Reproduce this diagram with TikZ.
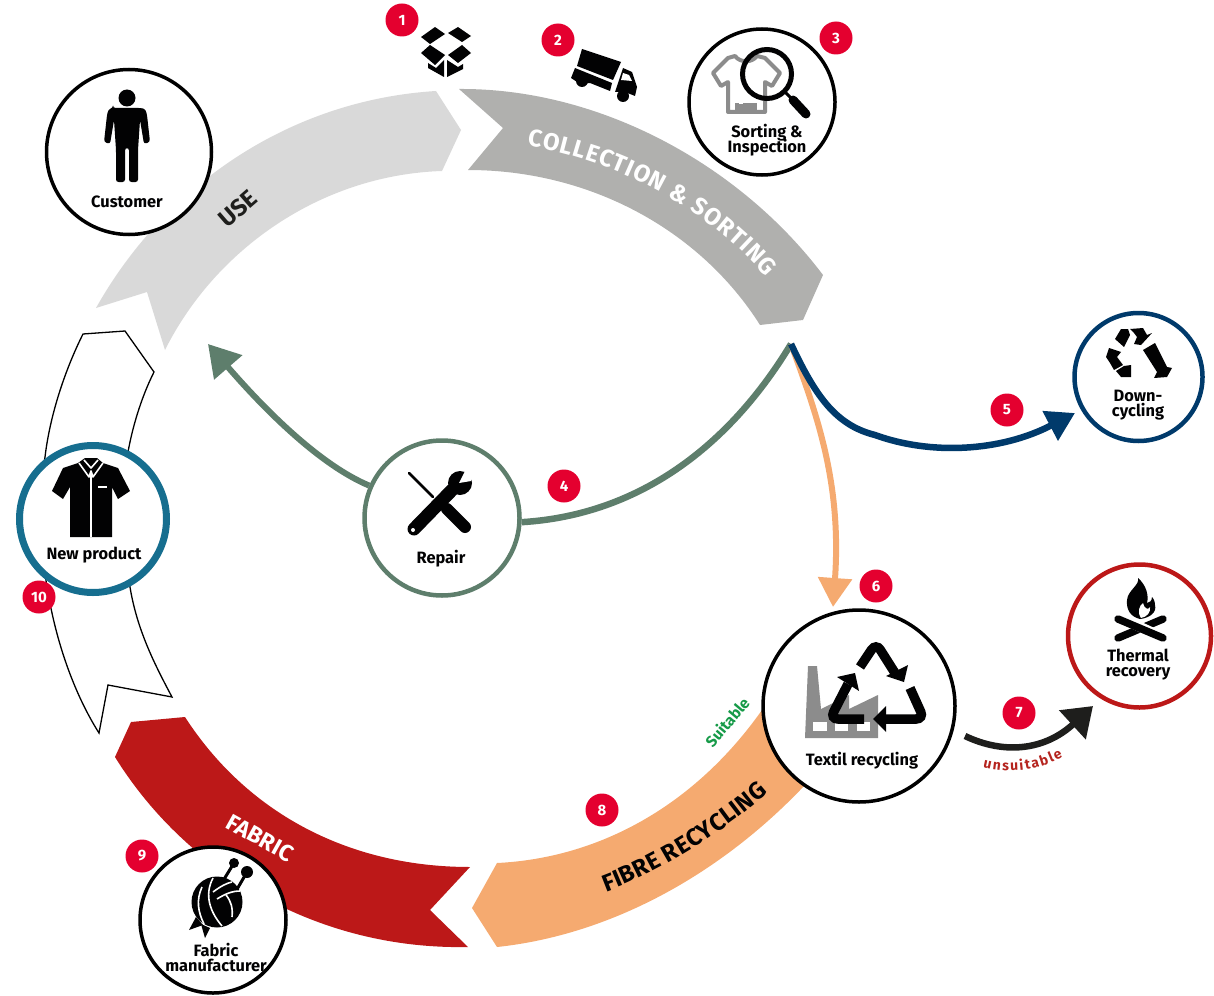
\documentclass[tikz,border=0pt]{standalone}
\usepackage{fontspec}
\setmainfont{Fira Sans}
\usetikzlibrary{arrows.meta,decorations.text}
\definecolor{badgered}{HTML}{E4002F}
\definecolor{grayA}{HTML}{B0B0AE}
\definecolor{grayB}{HTML}{D9D9D9}
\definecolor{fabricred}{HTML}{BC1818}
\definecolor{fibre}{HTML}{F5AA70}
\definecolor{repgreen}{HTML}{5E7E6C}
\definecolor{navy}{HTML}{003A6B}
\definecolor{teal}{HTML}{166E8F}
\definecolor{iconblack}{HTML}{020203}
\definecolor{factory}{HTML}{8C8C8C}
\definecolor{coal}{HTML}{1E1E1C}
\definecolor{suitgreen}{HTML}{169A48}
\definecolor{unsuit}{HTML}{B5241E}
\AtBeginDocument{\lineskiplimit=-100pt \normallineskiplimit=-100pt}
\tikzset{
  badge/.style={circle,fill=badgered,minimum size=33pt,inner sep=0pt,text=white,font=\fontsize{15}{15}\selectfont\bfseries},
  ring/.style={circle,fill=white,draw=#1,inner sep=0pt},
  lab/.style={font=\fontsize{16.4}{15}\selectfont\bfseries,text=iconblack,align=center,inner sep=0pt},
  conn/.style={line width=#1,line cap=butt},
  ic/.style={fill=iconblack,draw=none},
  wh/.style={fill=white,draw=none},
}
\newcommand{\curvetext}[3]{%
  \path[postaction={decorate},decoration={text along path,text align={fit to path},
    text={|\fontsize{#1}{#1}\selectfont\bfseries\color{#2}|#3}}]}
\begin{document}
\begin{tikzpicture}[x=1pt,y=-1pt,line join=miter]
\useasboundingbox (0,0) rectangle (1214,995);
% ---- ring bands
\fill[grayB] (436,91) .. controls (290,100) and (165,185) .. (96,308)
  -- (147,292) -- (165,350) .. controls (215,250) and (320,175) .. (442,171) -- (461,130) -- cycle;
\fill[grayA] (459,89) .. controls (600,88) and (740,165) .. (823,275)
  -- (803,320) -- (760,325) .. controls (700,230) and (590,170) .. (468,170) -- (503,128) -- cycle;
\draw[black,line width=1.3pt,fill=white] (83,334) -- (125,331) -- (154,372)
  .. controls (140,400) and (132,430) .. (128,452) .. controls (122,500) and (125,550) .. (130,587)
  .. controls (137,630) and (155,665) .. (172,697) -- (108,685) -- (99,733)
  .. controls (75,695) and (60,650) .. (52,613) .. controls (40,560) and (38,500) .. (45,457)
  .. controls (50,415) and (65,370) .. (83,334) -- cycle;
\fill[fabricred] (131,722) -- (185,717) .. controls (245,810) and (345,867) .. (470,867)
  -- (430,910) -- (468,947) .. controls (315,950) and (185,870) .. (115,757) -- cycle;
\fill[fibre] (497,863) .. controls (600,858) and (695,805) .. (762,710)
  -- (805,785) .. controls (720,875) and (610,935) .. (497,947) -- (472,908) -- cycle;
% ---- band labels
\curvetext{24}{white}{COLLECTION {\&} SORTING} (527,146) .. controls (610,158) and (705,205) .. (766,277);
\curvetext{24}{iconblack}{FIBRE RECYCLING} (606,892) .. controls (665,870) and (725,830) .. (768,793);
\node[font=\fontsize{24}{24}\selectfont\bfseries,text=coal,rotate=41,inner sep=0pt] (uselab) at (238,209) {USE};
\node[font=\fontsize{23}{23}\selectfont\bfseries,text=white,rotate=-29,inner sep=0pt] (fablab) at (260,838) {FABRIC};
\node[font=\fontsize{15.5}{15.5}\selectfont\bfseries,text=suitgreen,rotate=50,inner sep=0pt] (suit) at (727,722) {Suitable};
\curvetext{14}{unsuit}{unsuitable} (983,767) .. controls (1010,774) and (1040,770) .. (1063,757);
% ---- free ends
\coordinate (hub) at (791,344);
\coordinate (usetip) at (208,344);
\coordinate (blackstart) at (965,736);
\coordinate (blacktip) at (1093,706);
\coordinate (orangetip) at (833,607);
\coordinate (navytip) at (1075,413);
% ---- circles
\node[ring=black,line width=3.5pt,minimum size=165pt] (customer) at (129,152) {};
\node[ring=black,line width=3.5pt,minimum size=146pt] (sorting) at (762,102) {};
\node[ring=navy,line width=4.5pt,minimum size=128pt] (down) at (1138.5,377) {};
\node[ring=repgreen,line width=4.5pt,minimum size=155pt] (repair) at (442,518) {};
\node[ring=teal,line width=7pt,minimum size=147pt] (newprod) at (93,519) {};
\node[ring=black,line width=3.5pt,minimum size=192pt] (recyc) at (859,706) {};
\node[ring=fabricred,line width=4.5pt,minimum size=143pt] (thermal) at (1139.5,636) {};
\node[ring=black,line width=3.5pt,minimum size=146pt] (fabric) at (213,920) {};
% ---- connectors
\draw[conn=6.5pt,repgreen] (hub) .. controls (730,445) and (640,515) .. (repair.-3);
\draw[conn=6pt,repgreen,-{Triangle[length=31pt,width=36pt]}] (repair.156) .. controls (320,465) and (265,410) .. (usetip);
\draw[conn=6pt,fibre,-{Triangle[length=29pt,width=33pt]}] (hub) .. controls (815,410) and (842,480) .. (orangetip);
\draw[conn=6.5pt,navy,-{Triangle[length=28pt,width=32pt]}] (hub) .. controls (815,395) and (835,425) .. (875,435) .. controls (930,455) and (1000,452) .. (navytip);
\draw[conn=6.5pt,coal,-{Triangle[length=28pt,width=38pt]}] (blackstart) .. controls (1005,755) and (1045,750) .. (blacktip);
% ---- badges
\node[badge] (b1) at (402,20) {1};
\node[badge] (b2) at (558,40) {2};
\node[badge] (b3) at (836,38) {3};
\node[badge] (b4) at (564,486) {4};
\node[badge] (b5) at (1007,410) {5};
\node[badge] (b6) at (876,586) {6};
\node[badge] (b7) at (1019,713) {7};
\node[badge] (b8) at (602,810) {8};
\node[badge] (b9) at (142,856) {9};
\node[badge] (b10) at (39,597) {10};
% ---- labels
\node[lab] (tcustomer) at (127,202) {Customer};
\node[lab] (tsorting) at (767,140.5) {Sorting \&\\Inspection};
\node[lab] (tdown) at (1138,405.5) {Down-\\cycling};
\node[lab] (trepair) at (441,559) {Repair};
\node[lab] (tnew) at (94,555) {New product};
\node[lab] (trecyc) at (862,761) {Textil recycling};
\node[lab] (ttherm) at (1138,664.5) {Thermal\\recovery};
\node[lab] (tfabric) at (216,957.5) {Fabric\\manufacturer};
% ---- person
\fill[ic] (127,98) circle (8.5);
\fill[ic,rounded corners=2.5pt] (113,108) -- (141,108) .. controls (145,109) and (146,111) .. (147,115) -- (150,142) -- (144,144) -- (140,120) -- (138,150) -- (138,182) -- (129,182) -- (129,148) -- (125,148) -- (125,182) -- (116,182) -- (116,150) -- (114,120) -- (110,144) -- (104,142) -- (107,115) .. controls (108,111) and (109,109) .. (113,108) -- cycle;
% ---- box
\fill[ic] (421,37) -- (435,27) -- (445,34) -- (430,44) -- cycle;
\fill[ic] (448,33) -- (458,27) -- (471,36) -- (462,42) -- cycle;
\fill[ic] (421,53) -- (430,45) -- (445,55) -- (435,65) -- cycle;
\fill[ic] (448,55) -- (462,45) -- (471,53) -- (458,63) -- cycle;
\fill[ic] (428,63) -- (436,68) -- (444,60) -- (444,77) -- (428,68) -- cycle;
\fill[ic] (447,60) -- (458,67) -- (463,64) -- (463,69) -- (447,77) -- cycle;
% ---- truck
\fill[ic] (582,49) -- (621,62) -- (613,80) -- (577,66) -- cycle;
\fill[ic] (575,68) -- (612,83) -- (610,91) -- (590,83) -- (580,84) -- (571,78) -- cycle;
\fill[ic] (623,68) -- (632,72) -- (637,87) -- (635,96) -- (625,92) -- (615,92) -- cycle;
\fill[wh] (623,73) -- (629,75) -- (632,81) -- (621,80) -- cycle;
\fill[ic] (582,81) circle (6);
\fill[ic] (623,96) circle (6);
% ---- t-shirt and magnifier
\draw[factory,line width=4pt,line join=round] (728,112) -- (728,82) -- (721,86) -- (713,73) -- (728,58) -- (735,56) .. controls (740,63) and (752,63) .. (757,56) -- (765,58) -- (780,73) -- (772,86) -- (765,82) -- (765,112) -- cycle;
\fill[factory] (735,103) rectangle (757,112);
\fill[wh] (739,97) rectangle (743,104);
\draw[iconblack,line width=5pt] (767,74) circle (24.5);
\draw[iconblack,line width=3pt] (785,92) -- (793,100);
\draw[iconblack,line width=9pt,line cap=round] (793,100) -- (806,114);
% ---- downcycling icon
\fill[ic] (1115,339) -- (1121,329) -- (1128,329) -- (1130,335) -- (1124,347) -- cycle;
\fill[ic] (1130,329) -- (1143,328) -- (1147,335) -- (1152,333) -- (1141,345) -- (1134,344) -- (1137,337) -- (1134,333) -- cycle;
\fill[ic] (1143,350) -- (1155,343) -- (1167,367) -- (1172,368) -- (1167,377) -- (1154,378) -- (1157,372) -- cycle;
\fill[ic] (1109,348) -- (1121,352) -- (1117,357) -- (1123,365) -- (1114,370) -- (1110,363) -- (1106,357) -- cycle;
\fill[ic] (1116,371) -- (1124,366) -- (1131,365) -- (1131,377) -- (1121,377) -- cycle;
% ---- repair icon
\draw[iconblack,line width=2.5pt,line cap=round] (409,473) -- (433,497);
\draw[iconblack,line width=12pt,line cap=round] (447,509) -- (465,527);
\draw[iconblack,line width=13pt,line cap=round] (414,529) -- (452,490);
\fill[ic] (460,483) circle (12);
\fill[wh] (465,471) -- (459,483) -- (471,481) -- (476,470) -- cycle;
\fill[wh] (413,530) circle (2);
% ---- new product shirt
\fill[ic] (85,458) -- (97,458) -- (103,463) -- (118,468) -- (130,491) -- (118,499) -- (112,487) -- (112,537) -- (70,537) -- (70,487) -- (63,499) -- (52,491) -- (63,468) -- (78,463) -- cycle;
\draw[white,line width=1.6pt,line join=round] (79,463) -- (89,477) -- (91,471) -- (93,477) -- (103,463);
\draw[white,line width=1.6pt,line join=round] (84,460) -- (91,468) -- (98,460);
\draw[white,line width=1.8pt] (91,473) -- (91,537);
\fill[wh] (98,486) rectangle (107,488);
% ---- factory and recycling arrows
\fill[factory] (805,738) -- (808,666) -- (817,666) -- (821,709) -- (849,695) -- (849,709) -- (878,695) -- (878,738) -- cycle;
\fill[wh] (813,722) rectangle (827,731);
\fill[wh] (835,722) rectangle (848,731);
\fill[wh] (857,722) rectangle (870,731);
\draw[iconblack,line width=9.5pt,rounded corners=8pt] (860,667) -- (876,643) -- (895,673);
\fill[ic] (908,665) -- (886,676) -- (904,682) -- cycle;
\draw[iconblack,line width=9.5pt,rounded corners=8pt] (910,688) -- (924,719) -- (880,719);
\fill[ic] (886,706) -- (886,732) -- (873,719) -- cycle;
\draw[iconblack,line width=9.5pt,rounded corners=8pt] (864,719) -- (830,719) -- (848,684);
\fill[ic] (837,677) -- (855,673) -- (859,691) -- cycle;
% ---- fire
\draw[iconblack,line width=7.5pt,line cap=round] (1163,619) -- (1118,638);
\draw[white,line width=10pt] (1125,620) -- (1160,636);
\draw[iconblack,line width=7.5pt,line cap=round] (1118,619) -- (1163,638);
\fill[ic] (1138,578) .. controls (1140,585) and (1128,590) .. (1127,600) .. controls (1126,610) and (1131,617) .. (1140,619) .. controls (1150,618) and (1157,612) .. (1155,605) .. controls (1155,601) and (1153,598) .. (1152,597) .. controls (1152,601) and (1149,603) .. (1147,603) .. controls (1149,595) and (1146,585) .. (1138,578) -- cycle;
\fill[wh] (1141,618) .. controls (1137,612) and (1139,606) .. (1143,603) .. controls (1144,608) and (1148,611) .. (1150,607) .. controls (1151,612) and (1147,617) .. (1141,618) -- cycle;
% ---- yarn
\draw[iconblack,line width=3pt] (234,863) -- (205,910);
\draw[iconblack,line width=3pt] (247,872) -- (225,910);
\fill[ic] (234,863) circle (5);
\fill[ic] (247,872) circle (6);
\fill[ic] (217,902) circle (25.5);
\fill[ic] (189,930) -- (196,917) -- (203,925) -- cycle;
\fill[ic] (205,938) -- (201,924) -- (210,928) -- cycle;
\draw[white,line width=1.6pt] (202,887) .. controls (196,900) and (198,912) .. (204,924);
\draw[white,line width=1.6pt] (213,878) .. controls (204,895) and (210,912) .. (222,926);
\draw[white,line width=1.6pt] (213,892) .. controls (221,886) and (227,883) .. (232,882);
\draw[white,line width=1.6pt] (217,899) .. controls (225,894) and (232,891) .. (240,891);
\draw[white,line width=1.6pt] (226,895) .. controls (231,901) and (233,908) .. (232,917);
\end{tikzpicture}
\end{document}
